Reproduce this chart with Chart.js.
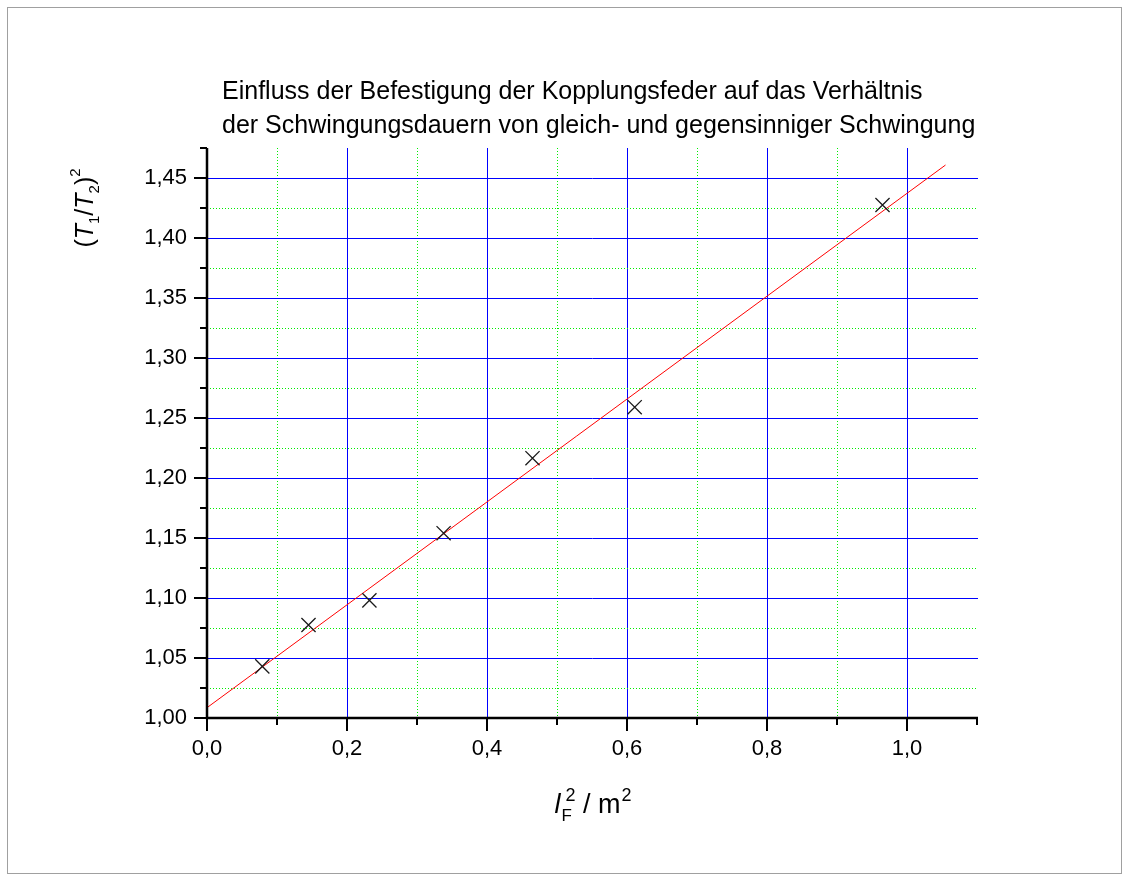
<!DOCTYPE html>
<html><head><meta charset="utf-8">
<script src="https://cdn.jsdelivr.net/npm/chart.js@4/dist/chart.umd.min.js"></script>
<style>html,body{margin:0;padding:0;background:#fff;} canvas{display:block;}</style>
</head><body>
<canvas id="c" width="1129" height="881"></canvas>
<script>
const xValues = [0.079, 0.145, 0.232, 0.338, 0.465, 0.611, 0.965];
const yValues = [1.043, 1.0775, 1.098, 1.154, 1.2165, 1.259, 1.4275];
const fitX = [0.0, 1.055];
const fitY = [1.0086, 1.4608];
const xTickLabels = ['0,0', '0,2', '0,4', '0,6', '0,8', '1,0'];
const yTickLabels = ['1,00', '1,05', '1,10', '1,15', '1,20', '1,25', '1,30', '1,35', '1,40', '1,45'];
const titleLines = ['Einfluss der Befestigung der Kopplungsfeder auf das Verhältnis',
                    'der Schwingungsdauern von gleich- und gegensinniger Schwingung'];

const FONT = '"Liberation Sans", Arial, sans-serif';
const X_MIN = 0, X_MAX = 1.1, Y_MIN = 1.0, Y_MAX = 1.475;
const isMajorX = v => Math.round(v * 10) % 2 === 0;
const isMajorY = v => Math.round((v - 1) * 1000) % 50 === 0;
const BLUE = '#0000ff', GREEN = '#00ee00', NONE = 'rgba(0,0,0,0)';

function setFont(ctx, p) {
  ctx.font = `${p.italic ? 'italic ' : ''}${p.size}px ${FONT}`;
}
// pieces: {t, size, italic, dy, dx, under:{...}} — 'under' is drawn stacked at same x
function drawPieces(ctx, pieces, cx, baseY) {
  const adv = pieces.map(p => {
    setFont(ctx, p);
    let w = ctx.measureText(p.t).width + (p.dx || 0);
    if (p.under) {
      setFont(ctx, p.under);
      w = Math.max(w, ctx.measureText(p.under.t).width + (p.under.dx || 0));
    }
    return w;
  });
  const total = adv.reduce((a, b) => a + b, 0);
  let x = cx - total / 2;
  pieces.forEach((p, i) => {
    setFont(ctx, p);
    ctx.fillText(p.t, x + (p.dx || 0), baseY + (p.dy || 0));
    if (p.under) {
      setFont(ctx, p.under);
      ctx.fillText(p.under.t, x + (p.under.dx || 0), baseY + (p.under.dy || 0));
    }
    x += adv[i];
  });
}

const deco = {
  id: 'deco',
  beforeDatasetsDraw(chart) {
    const { ctx, chartArea: a, scales: { x, y } } = chart;
    ctx.save();
    ctx.lineWidth = 1;
    x.ticks.forEach(t => {
      const v = t.value;
      if (Math.abs(v - X_MIN) < 1e-6 || Math.abs(v - X_MAX) < 1e-6) return;
      const px = Math.round(x.getPixelForValue(v)) + 0.5;
      const major = isMajorX(v);
      ctx.strokeStyle = major ? BLUE : GREEN;
      ctx.setLineDash(major ? [] : [1, 2]);
      ctx.beginPath(); ctx.moveTo(px, a.top); ctx.lineTo(px, a.bottom); ctx.stroke();
    });
    y.ticks.forEach(t => {
      const v = t.value;
      if (Math.abs(v - Y_MIN) < 1e-6 || Math.abs(v - Y_MAX) < 1e-6) return;
      const py = Math.round(y.getPixelForValue(v)) + 0.5;
      const major = isMajorY(v);
      ctx.strokeStyle = major ? BLUE : GREEN;
      ctx.setLineDash(major ? [] : [1, 2]);
      ctx.beginPath(); ctx.moveTo(a.left, py); ctx.lineTo(a.right + 1, py); ctx.stroke();
    });
    ctx.restore();
  },
  afterDraw(chart) {
    const { ctx, chartArea: a, scales: { x, y } } = chart;
    ctx.save();
    ctx.setLineDash([]);
    ctx.strokeStyle = '#000';
    ctx.lineWidth = 2;
    // axis ticks (major long, minor short), outward
    x.ticks.forEach(t => {
      const px = Math.round(x.getPixelForValue(t.value));
      const len = isMajorX(t.value) ? 13 : 7;
      ctx.beginPath(); ctx.moveTo(px, a.bottom); ctx.lineTo(px, a.bottom + len); ctx.stroke();
    });
    y.ticks.forEach(t => {
      const py = Math.round(y.getPixelForValue(t.value));
      const len = isMajorY(t.value) ? 13 : 7;
      ctx.beginPath(); ctx.moveTo(a.left, py); ctx.lineTo(a.left - len, py); ctx.stroke();
    });
    // axis lines
    ctx.lineWidth = 2.5;
    ctx.beginPath();
    ctx.moveTo(a.left, a.top); ctx.lineTo(a.left, a.bottom); ctx.lineTo(a.right + 1, a.bottom);
    ctx.stroke();
    // outer frame
    ctx.strokeStyle = '#a0a0a0';
    ctx.lineWidth = 1;
    ctx.strokeRect(7.5, 7.5, 1114, 866);
    // title
    ctx.fillStyle = '#000';
    ctx.textBaseline = 'alphabetic';
    ctx.textAlign = 'left';
    ctx.font = `25px ${FONT}`;
    ctx.fillText(titleLines[0], 222, 99);
    ctx.fillText(titleLines[1], 222, 133);
    // x axis title: l_F^2 / m^2
    const xt = [
      { t: 'l', italic: true, size: 27 },
      { t: '2', size: 18, dy: -12, dx: 5, under: { t: 'F', size: 17, dy: 8, dx: 1 } },
      { t: ' / m', size: 27 },
      { t: '2', size: 18, dy: -12, dx: 1 }
    ];
    drawPieces(ctx, xt, 593, 813);
    // y axis title: (T_1/T_2)^2
    ctx.save();
    ctx.translate(93, 208);
    ctx.rotate(-Math.PI / 2);
    const yt = [
      { t: '(', size: 25 },
      { t: 'T', italic: true, size: 25 },
      { t: '1', size: 15, dy: 6 },
      { t: '/', size: 25 },
      { t: 'T', italic: true, size: 25 },
      { t: '2', size: 15, dy: 6 },
      { t: ')', size: 25 },
      { t: '2', size: 15, dy: -13 }
    ];
    drawPieces(ctx, yt, 0, 0);
    ctx.restore();
    ctx.restore();
  }
};

new Chart(document.getElementById('c'), {
  type: 'scatter',
  data: {
    datasets: [
      {
        label: 'fit',
        data: fitX.map((v, i) => ({ x: v, y: fitY[i] })),
        showLine: true,
        borderColor: '#ff0000',
        borderWidth: 1,
        pointRadius: 0,
        fill: false,
        order: 2
      },
      {
        label: 'data',
        data: xValues.map((v, i) => ({ x: v, y: yValues[i] })),
        showLine: false,
        pointStyle: 'crossRot',
        pointRadius: 10,
        borderColor: '#1a1a1a',
        backgroundColor: '#1a1a1a',
        pointBorderWidth: 1.3,
        order: 1
      }
    ]
  },
  options: {
    responsive: false,
    animation: false,
    devicePixelRatio: 1,
    layout: { padding: { left: 0, top: 148, right: 152, bottom: 0 } },
    plugins: { legend: { display: false }, tooltip: { enabled: false }, title: { display: false } },
    scales: {
      x: {
        type: 'linear', position: 'bottom', min: X_MIN, max: X_MAX,
        afterFit: s => { s.height = 163; },
        ticks: {
          stepSize: 0.1, autoSkip: false, maxRotation: 0, color: '#000', padding: 6,
          font: { family: FONT, size: 22 },
          callback: v => isMajorX(v) ? xTickLabels[Math.round(v * 10) / 2] : ''
        },
        grid: { drawOnChartArea: false, drawTicks: true, tickLength: 12, tickColor: NONE, color: NONE },
        border: { display: false }
      },
      y: {
        type: 'linear', position: 'left', min: Y_MIN, max: Y_MAX,
        afterFit: s => { s.width = 207; },
        ticks: {
          stepSize: 0.025, autoSkip: false, color: '#000', padding: 7,
          font: { family: FONT, size: 22 },
          callback: v => isMajorY(v) ? yTickLabels[Math.round((v - 1) * 1000) / 50] : ''
        },
        grid: { drawOnChartArea: false, drawTicks: true, tickLength: 13, tickColor: NONE, color: NONE },
        border: { display: false }
      }
    }
  },
  plugins: [deco]
});
</script>
</body></html>
